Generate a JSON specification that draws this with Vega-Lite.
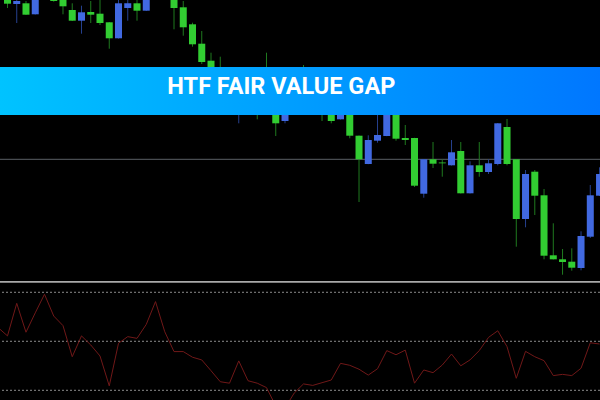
{
  "$schema": "https://vega.github.io/schema/vega-lite/v6.json",
  "background": "#000000",
  "padding": 0,
  "spacing": 0,
  "bounds": "flush",
  "config": {"view": {"stroke": null}, "concat": {"spacing": 0}, "scale": {"continuousPadding": 0}},
  "datasets": {
    "candles": [
      {"i":0,"o":296.3,"h":310,"l":292,"c":306},
      {"i":1,"o":299,"h":302,"l":277,"c":296},
      {"i":2,"o":285.3,"h":299,"l":285,"c":296.7},
      {"i":3,"o":306,"h":309,"l":285.5,"c":285.7},
      {"i":4,"o":320,"h":325,"l":303,"c":305},
      {"i":5,"o":299,"h":315,"l":298.3,"c":310},
      {"i":6,"o":293.7,"h":312,"l":285.7,"c":308},
      {"i":7,"o":279.3,"h":296.7,"l":279,"c":290},
      {"i":8,"o":287.7,"h":294.3,"l":266.3,"c":279.3},
      {"i":9,"o":285.3,"h":299,"l":277,"c":288},
      {"i":10,"o":277,"h":300,"l":275,"c":286.3},
      {"i":11,"o":261.7,"h":278,"l":251.3,"c":277.7},
      {"i":12,"o":296.7,"h":301,"l":261.5,"c":261.7},
      {"i":13,"o":296.7,"h":300,"l":279.3,"c":292},
      {"i":14,"o":289.3,"h":301,"l":279.3,"c":296.7},
      {"i":15,"o":308,"h":312,"l":289,"c":289.3},
      {"i":16,"o":305,"h":324,"l":303,"c":320},
      {"i":17,"o":318,"h":322,"l":302,"c":304},
      {"i":18,"o":292,"h":310,"l":270.7,"c":306},
      {"i":19,"o":272.7,"h":299,"l":264.3,"c":292.7},
      {"i":20,"o":255.7,"h":277.3,"l":253.3,"c":275.7},
      {"i":21,"o":238,"h":269,"l":236,"c":256.3},
      {"i":22,"o":228,"h":247.3,"l":226,"c":239.3},
      {"i":23,"o":228,"h":243.3,"l":222,"c":230},
      {"i":24,"o":228,"h":232,"l":210,"c":215},
      {"i":25,"o":210,"h":215,"l":176.7,"c":188},
      {"i":26,"o":190,"h":212,"l":187,"c":205},
      {"i":27,"o":190,"h":208,"l":180.7,"c":202},
      {"i":28,"o":192,"h":247.3,"l":188,"c":220},
      {"i":29,"o":176.7,"h":212,"l":164,"c":205},
      {"i":30,"o":200,"h":205,"l":176.7,"c":179},
      {"i":31,"o":195,"h":202,"l":186,"c":187},
      {"i":32,"o":188,"h":235,"l":186,"c":210},
      {"i":33,"o":208,"h":215,"l":190,"c":195},
      {"i":34,"o":188,"h":205,"l":179,"c":200},
      {"i":35,"o":179,"h":202,"l":176.7,"c":196},
      {"i":36,"o":194,"h":200,"l":180.5,"c":180.7},
      {"i":37,"o":164.3,"h":196,"l":161.7,"c":190},
      {"i":38,"o":140.7,"h":164.5,"l":98,"c":164.3},
      {"i":39,"o":160,"h":164.7,"l":135.8,"c":136},
      {"i":40,"o":165,"h":188,"l":157.3,"c":159.3},
      {"i":41,"o":192,"h":196,"l":163.8,"c":164},
      {"i":42,"o":161.3,"h":194,"l":159.3,"c":188},
      {"i":43,"o":160,"h":175,"l":155,"c":162},
      {"i":44,"o":114.3,"h":162.2,"l":113,"c":162},
      {"i":45,"o":140.7,"h":140.9,"l":102.3,"c":106.3},
      {"i":46,"o":136.3,"h":158,"l":132,"c":140.7},
      {"i":47,"o":136.7,"h":140.7,"l":123.3,"c":137.5},
      {"i":48,"o":147.7,"h":160,"l":134.5,"c":134.7},
      {"i":49,"o":106.7,"h":158,"l":106.5,"c":149},
      {"i":50,"o":134.7,"h":138.7,"l":106.5,"c":106.7},
      {"i":51,"o":128,"h":158,"l":123.3,"c":134.7},
      {"i":52,"o":136.7,"h":140.7,"l":126,"c":128},
      {"i":53,"o":176.7,"h":177,"l":134.7,"c":136},
      {"i":54,"o":136,"h":181,"l":134.7,"c":173},
      {"i":55,"o":81,"h":141,"l":53.3,"c":140.7},
      {"i":56,"o":126,"h":130,"l":72.7,"c":81},
      {"i":57,"o":104.3,"h":130,"l":85,"c":128.3},
      {"i":58,"o":44.3,"h":111,"l":40.7,"c":104.7},
      {"i":59,"o":40.7,"h":76.7,"l":40.5,"c":44.7},
      {"i":60,"o":38,"h":51,"l":25.3,"c":40.7},
      {"i":61,"o":32.3,"h":51.7,"l":29.3,"c":38.3},
      {"i":62,"o":64,"h":68.7,"l":29.7,"c":32},
      {"i":63,"o":104.7,"h":115,"l":62,"c":63.3},
      {"i":64,"o":126,"h":132.7,"l":104,"c":104.3}
    ],
    "rsi": [
      {"i":-0.81,"v":54.9},{"i":0,"v":52.2},{"i":1,"v":65.5},{"i":2,"v":53.7},{"i":3,"v":61.6},
      {"i":4,"v":69.2},{"i":5,"v":60.3},{"i":6,"v":56.4},{"i":7,"v":43.7},{"i":8,"v":52.2},
      {"i":9,"v":48.5},{"i":10,"v":44.0},{"i":11,"v":31.8},{"i":12,"v":49.2},{"i":13,"v":51.9},
      {"i":14,"v":51.2},{"i":15,"v":56.9},{"i":16,"v":66.2},{"i":17,"v":53.9},{"i":18,"v":45.8},
      {"i":19,"v":45.8},{"i":20,"v":43.5},{"i":21,"v":42.4},{"i":22,"v":38.0},{"i":23,"v":33.5},
      {"i":24,"v":32.9},{"i":25,"v":42.0},{"i":26,"v":33.9},{"i":27,"v":32.9},{"i":28,"v":31.1},
      {"i":29,"v":23.6},{"i":30,"v":22.8},{"i":31,"v":28.9},{"i":32,"v":32.6},{"i":33,"v":32.0},
      {"i":34,"v":33.1},{"i":35,"v":34.2},{"i":36,"v":41.0},{"i":37,"v":40.2},{"i":38,"v":38.6},
      {"i":39,"v":36.2},{"i":40,"v":38.8},{"i":41,"v":46.2},{"i":42,"v":44.5},{"i":43,"v":46.4},
      {"i":44,"v":32.9},{"i":45,"v":38.3},{"i":46,"v":37.2},{"i":47,"v":40.3},{"i":48,"v":44.8},
      {"i":49,"v":40.0},{"i":50,"v":42.4},{"i":51,"v":46.2},{"i":52,"v":51.6},{"i":53,"v":54.3},
      {"i":54,"v":47.8},{"i":55,"v":34.9},{"i":56,"v":45.9},{"i":57,"v":43.7},{"i":58,"v":42.1},
      {"i":59,"v":36.0},{"i":60,"v":36.5},{"i":61,"v":36.0},{"i":62,"v":39.0},{"i":63,"v":49.4},
      {"i":64,"v":48.9}
    ],
    "levels": [{"level":70},{"level":50},{"level":30}],
    "banner": [{"title":"HTF FAIR VALUE GAP"}]
  },
  "vconcat": [
    {
      "width": 600,
      "height": 281,
      "layer": [
        {
          "data": {"name": "banner"},
          "mark": {"type": "rule", "color": "#5a5f66", "strokeWidth": 1, "clip": true},
          "encoding": {
            "y": {"datum": 140.7, "type": "quantitative", "scale": {"domain": [19, 300], "nice": false, "zero": false}, "axis": null}
          }
        },
        {
          "data": {"name": "candles"},
          "mark": {"type": "rule", "strokeWidth": 1, "clip": true},
          "encoding": {
            "x": {"field": "i", "type": "quantitative", "scale": {"domain": [-0.81, 64.05], "nice": false, "zero": false, "padding": 0}, "axis": null},
            "y": {"field": "l", "type": "quantitative", "scale": {"domain": [19, 300], "nice": false, "zero": false}, "axis": null},
            "y2": {"field": "h"},
            "color": {"condition": {"test": "datum.c >= datum.o", "value": "#1f7a1f"}, "value": "#26408f"}
          }
        },
        {
          "data": {"name": "candles"},
          "mark": {"type": "bar", "width": 7, "clip": true},
          "encoding": {
            "x": {"field": "i", "type": "quantitative", "scale": {"domain": [-0.81, 64.05], "nice": false, "zero": false, "padding": 0}, "axis": null},
            "y": {"field": "o", "type": "quantitative", "scale": {"domain": [19, 300], "nice": false, "zero": false}, "axis": null},
            "y2": {"field": "c"},
            "color": {"condition": {"test": "datum.c >= datum.o", "value": "#32cd32"}, "value": "#4169e1"}
          }
        },
        {
          "data": {"name": "banner"},
          "mark": {
            "type": "rect",
            "color": {"gradient": "linear", "x1": 0, "y1": 0, "x2": 1, "y2": 0,
              "stops": [{"offset": 0, "color": "#00c3ff"}, {"offset": 1, "color": "#0077ff"}]}
          },
          "encoding": {
            "x": {"value": 0},
            "x2": {"value": "width"},
            "y": {"datum": 233, "type": "quantitative"},
            "y2": {"datum": 185}
          }
        },
        {
          "data": {"name": "banner"},
          "mark": {"type": "text", "font": "Roboto", "fontWeight": "bold", "fontSize": 23.5, "color": "#ffffff", "align": "center", "baseline": "middle"},
          "encoding": {
            "x": {"datum": 29.6, "type": "quantitative"},
            "y": {"datum": 213.3, "type": "quantitative"},
            "text": {"field": "title"}
          }
        }
      ]
    },
    {
      "width": 600,
      "height": 119,
      "layer": [
        {
          "data": {"name": "levels"},
          "mark": {"type": "rule", "color": "#8c8c8c", "strokeWidth": 1, "strokeDash": [2, 2], "clip": true},
          "encoding": {
            "y": {"field": "level", "type": "quantitative", "scale": {"domain": [26.04, 74.61], "nice": false, "zero": false}, "axis": null}
          }
        },
        {
          "data": {"name": "rsi"},
          "mark": {"type": "line", "color": "#701818", "strokeWidth": 1, "clip": true},
          "encoding": {
            "x": {"field": "i", "type": "quantitative", "scale": {"domain": [-0.81, 64.05], "nice": false, "zero": false, "padding": 0}, "axis": null},
            "y": {"field": "v", "type": "quantitative", "scale": {"domain": [26.04, 74.61], "nice": false, "zero": false}, "axis": null}
          }
        },
        {
          "data": {"name": "banner"},
          "mark": {"type": "rect", "color": "#a9a9a9"},
          "encoding": {
            "x": {"value": 0},
            "x2": {"value": "width"},
            "y": {"datum": 74.61, "type": "quantitative"},
            "y2": {"datum": 73.9}
          }
        }
      ]
    }
  ]
}
